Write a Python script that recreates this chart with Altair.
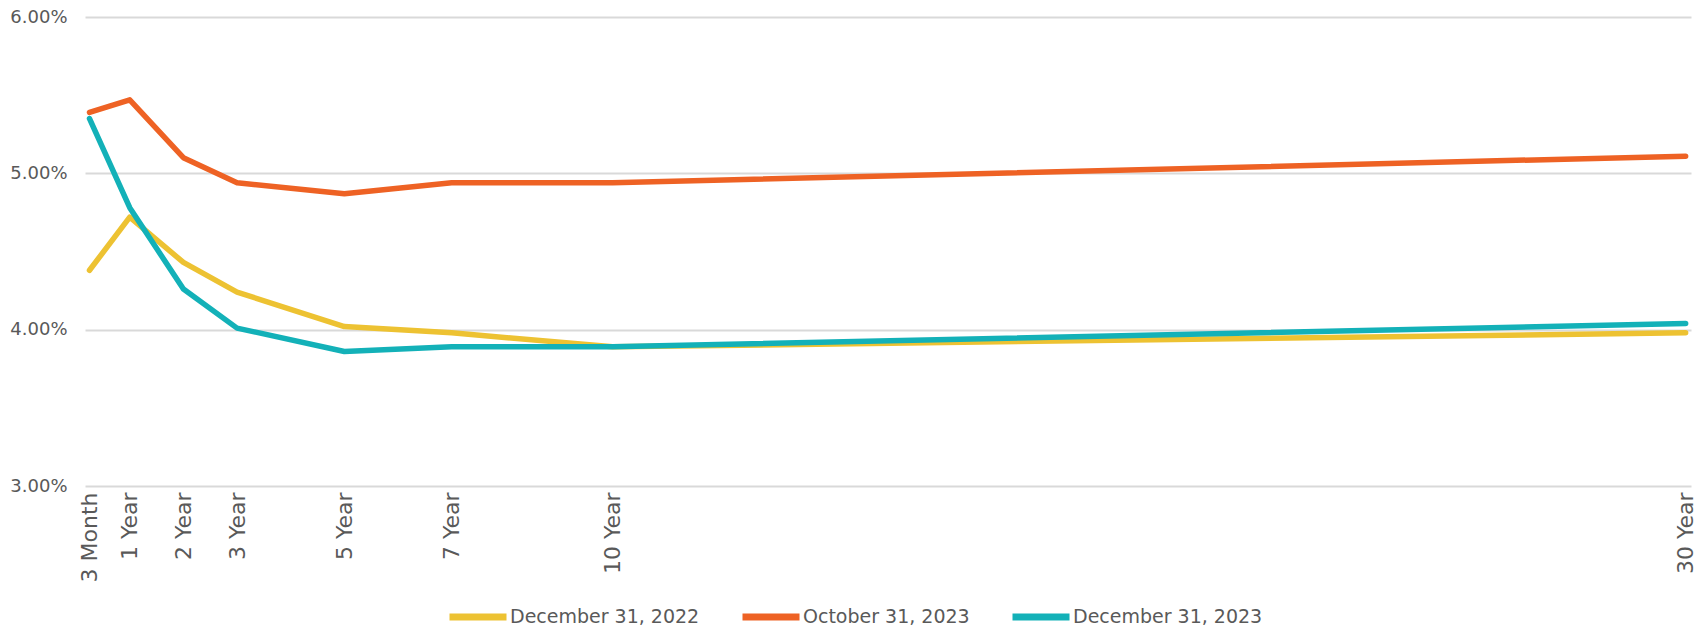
import altair as alt
import pandas as pd

tenor = [0.25, 1, 2, 3, 5, 7, 10, 30]
tenor_labels = ["3 Month", "1 Year", "2 Year", "3 Year", "5 Year", "7 Year", "10 Year", "30 Year"]
series_names = ["December 31, 2022", "October 31, 2023", "December 31, 2023"]
dec2022 = [4.38, 4.72, 4.43, 4.24, 4.02, 3.98, 3.89, 3.98]
oct2023 = [5.39, 5.47, 5.10, 4.94, 4.87, 4.94, 4.94, 5.11]
dec2023 = [5.35, 4.78, 4.26, 4.01, 3.86, 3.89, 3.89, 4.04]
colors = ["#EDC232", "#EE6224", "#13B1B8"]
y_ticks = [3, 4, 5, 6]

rows = []
for name, vals in zip(series_names, [dec2022, oct2023, dec2023]):
    for i, (t, v) in enumerate(zip(tenor, vals)):
        rows.append({"series": name, "tenor": t, "yield": v, "order": i})
df = pd.DataFrame(rows)

label_map = "{" + ",".join(f"'{t}':'{l}'" for t, l in zip(tenor, tenor_labels)) + "}"

FONT = "DejaVu Sans"
GREY = "#595959"

chart = alt.Chart(df).mark_line(strokeWidth=5.5, strokeCap="round", strokeJoin="round").encode(
    x=alt.X("tenor:Q",
            scale=alt.Scale(domain=[0.166, 30.10], nice=False, zero=False),
            axis=alt.Axis(values=tenor, labelExpr=f"{label_map}[datum.value]",
                          labelAngle=-90, labelPadding=6, labelFontSize=22, labelFont=FONT,
                          labelColor=GREY, grid=False, domain=False, ticks=False, title=None,
                          labelOverlap=False, labelBound=False, labelFlush=False)),
    y=alt.Y("yield:Q",
            scale=alt.Scale(domain=[3, 6], nice=False, zero=False),
            axis=alt.Axis(values=y_ticks, labelExpr="format(datum.value, '.2f') + '%'",
                          labelFontSize=18, labelFont=FONT, labelColor=GREY, labelPadding=18,
                          grid=True, gridColor="#D9D9D9", gridWidth=2, domain=False, ticks=False,
                          title=None)),
    color=alt.Color("series:N",
                    scale=alt.Scale(domain=series_names, range=colors),
                    legend=alt.Legend(orient="none", direction="horizontal", legendX=361, legendY=568,
                                      title=None, symbolType="stroke", symbolSize=3249,
                                      symbolStrokeWidth=7, labelFont=FONT, labelFontSize=19,
                                      labelColor=GREY, labelOffset=0, columnPadding=28,
                                      labelLimit=0, padding=0)),
    order="order:Q",
).properties(
    width=1606, height=469,
    autosize=alt.AutoSizeParams(type="none"),
    padding={"left": 85, "top": 17, "right": 11, "bottom": 143},
).configure_view(stroke=None)

chart.save("out.html", embed_options={"renderer": "svg", "actions": False})
